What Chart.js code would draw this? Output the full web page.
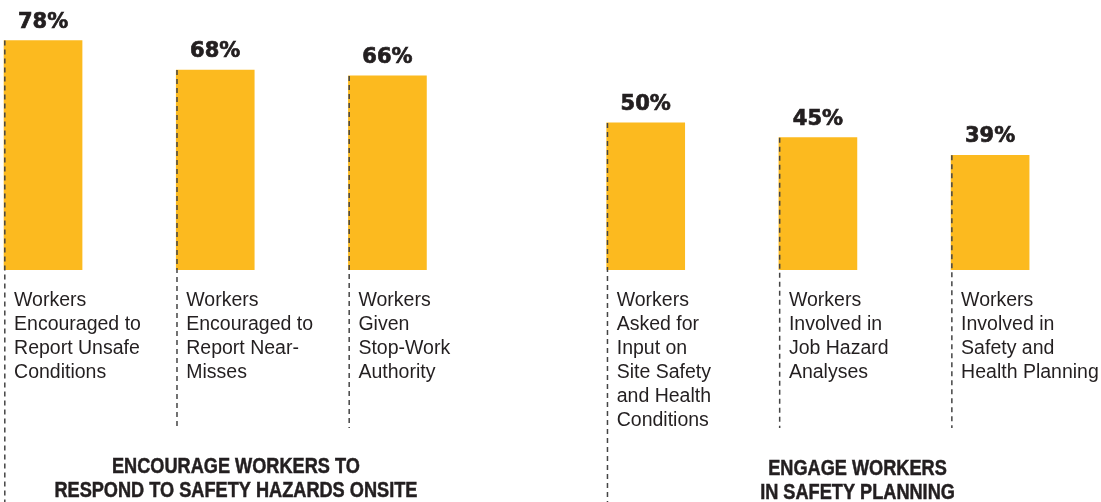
<!DOCTYPE html>
<html>
<head>
<meta charset="utf-8">
<script src="https://cdn.jsdelivr.net/npm/chart.js@4"></script>
<style>
  html, body { margin: 0; padding: 0; background: #fff; }
  #wrap { width: 1101px; height: 502px; }
</style>
</head>
<body>
<div id="wrap"><canvas id="chart" width="1101" height="502"></canvas></div>
<script>
// values
const categories = [
    ['Workers', 'Encouraged to', 'Report Unsafe', 'Conditions'],
    ['Workers', 'Encouraged to', 'Report Near-', 'Misses'],
    ['Workers', 'Given', 'Stop-Work', 'Authority'],
    ['Workers', 'Asked for', 'Input on', 'Site Safety', 'and Health', 'Conditions'],
    ['Workers', 'Involved in', 'Job Hazard', 'Analyses'],
    ['Workers', 'Involved in', 'Safety and', 'Health Planning']
];
const values = [78, 68, 66, 50, 45, 39];
const groupOf = [0, 0, 0, 1, 1, 1];
const groupTitles = [
    ['ENCOURAGE WORKERS TO', 'RESPOND TO SAFETY HAZARDS ONSITE'],
    ['ENGAGE WORKERS', 'IN SAFETY PLANNING']
];

const barColor = '#FCBA1F';
const textColor = '#231F20';
const dashColor = '#444444';

// second group sits half a slot further right
const xPos = values.map((v, i) => i + groupOf[i] * 0.5);
const titleX = [1.12, 4.73];
const titleY = [[473, 497], [475, 499]];

function drawScaled(ctx, text, x, y, sx) {
    ctx.save();
    ctx.translate(x, y);
    ctx.scale(sx, 1);
    ctx.fillText(text, 0, 0);
    ctx.strokeText(text, 0, 0);
    ctx.restore();
}

const decorations = {
    id: 'decorations',
    afterDraw(chart) {
        const ctx = chart.ctx;
        const meta = chart.getDatasetMeta(0);
        const xs = chart.scales.x;

        meta.data.forEach((bar, i) => {
            const left = bar.x - bar.width / 2;
            const first = i === 0 || groupOf[i] !== groupOf[i - 1];

            // dashed guide on the bar's left edge
            ctx.save();
            ctx.strokeStyle = dashColor;
            ctx.lineWidth = 1.5;
            ctx.setLineDash([5, 4]);
            ctx.beginPath();
            ctx.moveTo(left + 0.75, bar.y);
            ctx.lineTo(left + 0.75, first ? 502 : 428);
            ctx.stroke();
            ctx.restore();

            // value on top
            ctx.save();
            ctx.fillStyle = textColor;
            ctx.strokeStyle = textColor;
            ctx.lineWidth = 0.7;
            ctx.font = 'bold 21px "DejaVu Sans"';
            ctx.textAlign = 'center';
            ctx.textBaseline = 'alphabetic';
            ctx.fillText(values[i] + '%', bar.x, bar.y - 13);
            ctx.strokeText(values[i] + '%', bar.x, bar.y - 13);
            ctx.restore();

            // category text under the bar
            ctx.save();
            ctx.fillStyle = textColor;
            ctx.font = '19.5px "Liberation Sans"';
            ctx.textAlign = 'left';
            categories[i].forEach((line, k) => {
                ctx.fillText(line, left + 10, 306 + k * 24);
            });
            ctx.restore();
        });

        // group titles
        ctx.save();
        ctx.fillStyle = textColor;
        ctx.strokeStyle = textColor;
        ctx.lineWidth = 0.5;
        ctx.font = 'bold 22px "Liberation Sans"';
        ctx.textAlign = 'center';
        const sx = 363 / ctx.measureText(groupTitles[0][1]).width;
        groupTitles.forEach((lines, g) => {
            const cx = xs.getPixelForValue(titleX[g]);
            lines.forEach((line, k) => drawScaled(ctx, line, cx, titleY[g][k], sx));
        });
        ctx.restore();
    }
};

new Chart(document.getElementById('chart'), {
    type: 'bar',
    data: {
        datasets: [{
            data: values.map((v, i) => ({ x: xPos[i], y: v })),
            backgroundColor: barColor,
            borderWidth: 0,
            barThickness: 78
        }]
    },
    options: {
        responsive: false,
        animation: false,
        layout: { padding: { left: 0, right: 0, top: 0, bottom: 232 } },
        plugins: { legend: { display: false }, tooltip: { enabled: false } },
        scales: {
            x: { type: 'linear', display: false, offset: false, min: -0.25, max: 6.144 },
            y: { display: false, min: 0, max: 91.8 }
        }
    },
    plugins: [decorations]
});
</script>
</body>
</html>
